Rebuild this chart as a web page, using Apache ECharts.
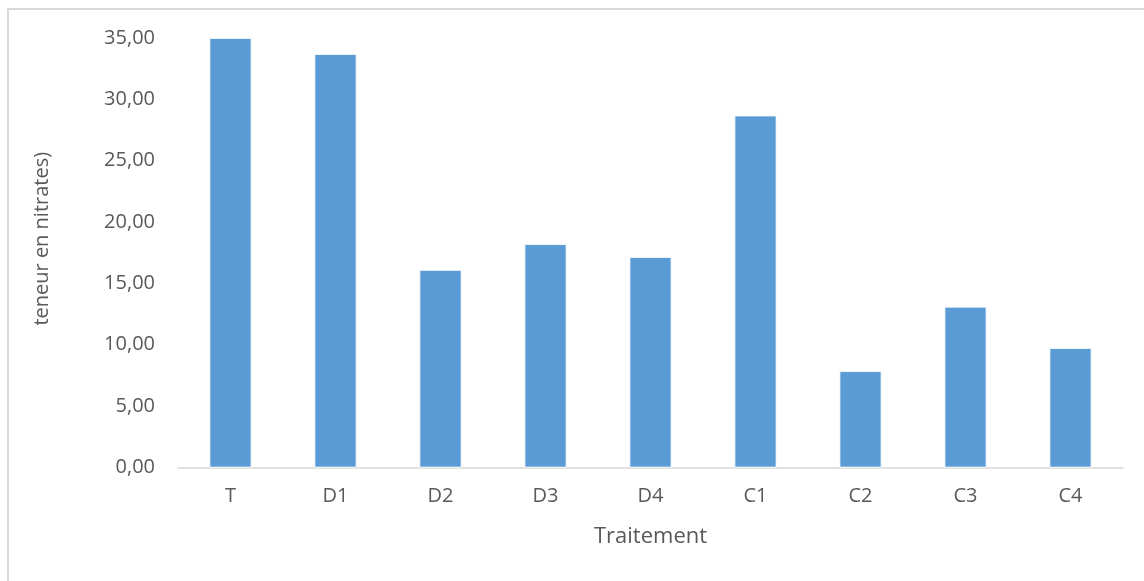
<!DOCTYPE html>
<html>
<head>
<meta charset="utf-8">
<script src="https://cdn.jsdelivr.net/npm/echarts@6/dist/echarts.min.js"></script>
<style>
html,body{margin:0;padding:0;background:#fff;}
#chart{width:1144px;height:581px;}
</style>
</head>
<body>
<div id="chart"></div>
<script>
const categories = ['T', 'D1', 'D2', 'D3', 'D4', 'C1', 'C2', 'C3', 'C4'];
const nitrates = [35.00, 33.69, 16.10, 18.20, 17.15, 28.68, 7.85, 13.10, 9.73];
const yTicks = { min: 0, max: 35, interval: 5 };

const chart = echarts.init(document.getElementById('chart'));
const FONT = '"Open Sans", "Liberation Sans", sans-serif';
chart.setOption({
  animation: false,
  backgroundColor: '#fff',
  graphic: [{
    type: 'rect',
    shape: { x: 8, y: 9, width: 1160, height: 600 },
    style: { fill: 'none', stroke: '#d9d9d9', lineWidth: 2 },
    silent: true
  }],
  grid: { left: 178, right: 21, top: 38, bottom: 113.5 },
  xAxis: {
    type: 'category',
    data: categories,
    name: 'Traitement',
    nameLocation: 'middle',
    nameGap: 58,
    nameTextStyle: { color: '#595959', fontSize: 22, fontFamily: FONT },
    axisLine: { lineStyle: { color: '#d9d9d9', width: 1.5 } },
    axisTick: { show: false },
    axisLabel: { color: '#595959', fontSize: 20, fontFamily: FONT, margin: 19 }
  },
  yAxis: {
    type: 'value',
    min: yTicks.min,
    max: yTicks.max,
    interval: yTicks.interval,
    name: 'teneur en nitrates)',
    nameLocation: 'middle',
    nameGap: 126,
    nameTextStyle: { color: '#595959', fontSize: 20, fontFamily: FONT, padding: [0, 0, 0, 28] },
    axisLine: { show: false },
    axisTick: { show: false },
    splitLine: { show: false },
    axisLabel: {
      color: '#595959', fontSize: 20, fontFamily: FONT, margin: 23,
      formatter: v => v.toFixed(2).replace('.', ',')
    }
  },
  series: [{
    type: 'bar',
    data: nitrates,
    barWidth: '40%',
    itemStyle: { color: '#5B9BD5', borderColor: '#ffffff', borderWidth: 0.8 }
  }]
});
</script>
</body>
</html>
